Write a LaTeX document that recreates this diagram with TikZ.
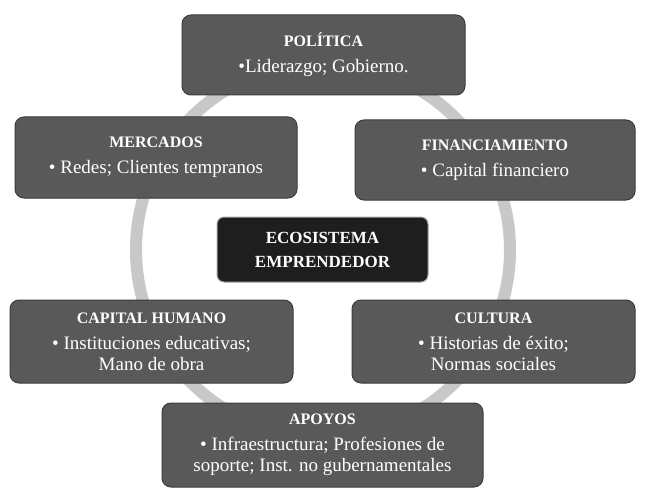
\documentclass[tikz,border=0pt]{standalone}
\usepackage{fontspec}
\setmainfont{Liberation Serif}
\definecolor{boxfill}{HTML}{595959}
\definecolor{boxedge}{HTML}{3C3C3C}
\definecolor{corefill}{HTML}{1E1E1E}
\definecolor{ringcol}{HTML}{C8C8C8}
\tikzset{
  card/.style={draw=boxedge, line width=1pt, fill=boxfill, rounded corners=9pt,
    text=white, align=center, inner sep=0pt,
    font=\fontsize{19}{21}\selectfont},
  core/.style={draw=gray!70, line width=1pt, fill=corefill, rounded corners=7pt,
    text=white, align=center, inner sep=0pt,
    font=\fontsize{17}{24}\selectfont\bfseries},
  ring/.style={draw=ringcol, line width=12pt}
}
\newcommand{\ttl}[1]{{\fontsize{16}{18}\selectfont\bfseries #1}\\[5pt]}
\begin{document}
\begin{tikzpicture}[x=1pt,y=-1pt]
\useasboundingbox (0,0) rectangle (650,500);
\fill[white] (0,0) rectangle (650,500);
\coordinate (c) at (323,250);
\draw[ring] (c) circle[radius=187];
\node[card, minimum width=283, minimum height=80] (pol) at (323.5,55)
  {\ttl{POLÍTICA}•Liderazgo; Gobierno.};
\node[card, minimum width=282, minimum height=81] (mer) at (156,157.5)
  {\ttl{MERCADOS}• Redes; Clientes tempranos};
\node[card, minimum width=280, minimum height=80] (fin) at (495,160)
  {\ttl{FINANCIAMIENTO}• Capital financiero};
\node[core, minimum width=211, minimum height=65] (eco) at (322.5,249.5)
  {ECOSISTEMA\\EMPRENDEDOR};
\node[card, minimum width=283, minimum height=83] (cap) at (151.5,341.5)
  {\ttl{CAPITAL HUMANO}• Instituciones educativas;\\Mano de obra};
\node[card, minimum width=283, minimum height=83] (cul) at (493.5,341.5)
  {\ttl{CULTURA}• Historias de éxito;\\Normas sociales};
\node[card, minimum width=321, minimum height=84] (apo) at (322.5,445)
  {\ttl{APOYOS}• Infraestructura; Profesiones de\\soporte; Inst. no gubernamentales};
\end{tikzpicture}
\end{document}
